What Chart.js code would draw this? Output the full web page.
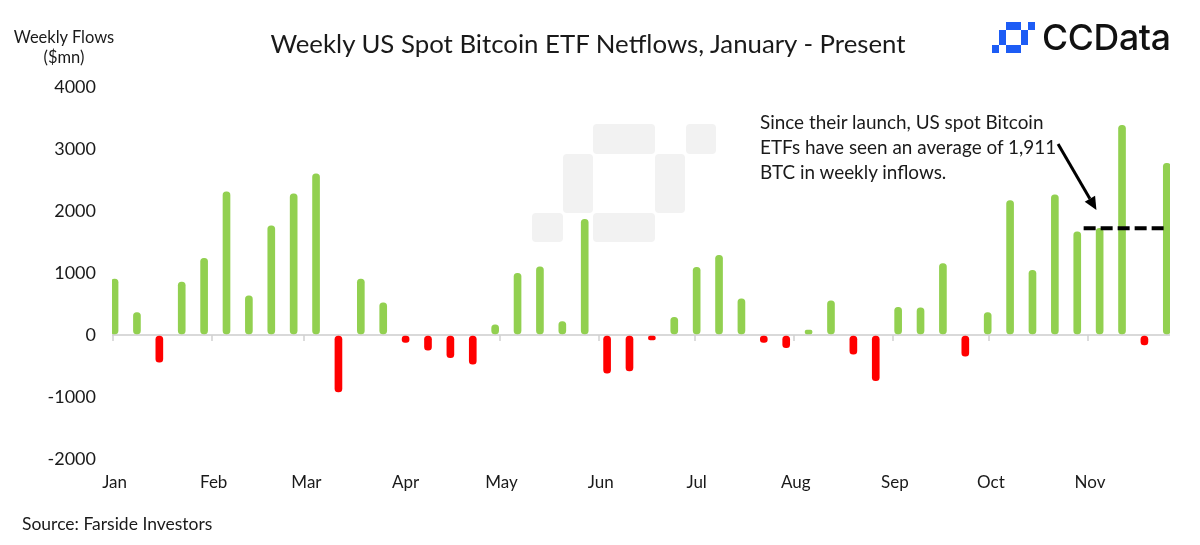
<!DOCTYPE html>
<html>
<head>
<meta charset="utf-8">
<title>Weekly US Spot Bitcoin ETF Netflows</title>
<script src="https://cdn.jsdelivr.net/npm/chart.js@4.4.1/dist/chart.umd.min.js"></script>
<style>
  body { margin: 0; background: #fff; }
  #wrap { position: relative; width: 1200px; height: 545px; overflow: hidden; font-family: Lato, sans-serif; color: #1a1a1a; }
  #wrap canvas { position: absolute; left: 0; top: 0; }
  .wm { position: absolute; background: #f2f2f2; border-radius: 4px; }
  .lg { position: absolute; background: #1d5cf5; }
  .txt { position: absolute; white-space: nowrap; }
  #title { left: 0; width: 1176px; top: 28px; font-size: 25.8px; line-height: 30px; text-align: center; }
  #ytitle { left: 4px; width: 120px; top: 27px; font-size: 16.5px; line-height: 20px; text-align: center; }
  #note { left: 760px; top: 109px; font-size: 18.9px; line-height: 25px; }
  #source { left: 22px; top: 514px; font-size: 17.5px; line-height: 20px; }
  #brand { left: 1042px; top: 21px; font-family: Inter, sans-serif; font-weight: 500; font-size: 35.6px; line-height: 34px; color: #111; letter-spacing: -0.3px; }
</style>
</head>
<body>
<div id="wrap">
  <div id="watermark"></div>
  <canvas id="flows-chart" width="1200" height="545"></canvas>
  <div id="title" class="txt">Weekly US Spot Bitcoin ETF Netflows, January - Present</div>
  <div id="ytitle" class="txt">Weekly Flows<br>($mn)</div>
  <div id="note" class="txt">Since their launch, US spot Bitcoin<br>ETFs have seen an average of 1,911<br>BTC in weekly inflows.</div>
  <div id="source" class="txt">Source: Farside Investors</div>
  <div id="logo"></div>
  <div id="brand" class="txt">CCData</div>
</div>
<script>
// week starting dates (Mondays)
const weekStarts = [
    '2024-01-01', '2024-01-08', '2024-01-15', '2024-01-22', '2024-01-29',
    '2024-02-05', '2024-02-12', '2024-02-19', '2024-02-26',
    '2024-03-04', '2024-03-11', '2024-03-18', '2024-03-25',
    '2024-04-01', '2024-04-08', '2024-04-15', '2024-04-22', '2024-04-29',
    '2024-05-06', '2024-05-13', '2024-05-20', '2024-05-27',
    '2024-06-03', '2024-06-10', '2024-06-17', '2024-06-24',
    '2024-07-01', '2024-07-08', '2024-07-15', '2024-07-22', '2024-07-29',
    '2024-08-05', '2024-08-12', '2024-08-19', '2024-08-26',
    '2024-09-02', '2024-09-09', '2024-09-16', '2024-09-23', '2024-09-30',
    '2024-10-07', '2024-10-14', '2024-10-21', '2024-10-28',
    '2024-11-04', '2024-11-11', '2024-11-18', '2024-11-25'
];
// weekly netflows, $mn
const netflows = [
    900, 360, -440, 855, 1235,
    2310, 630, 1760, 2275,
    2600, -920, 900, 520,
    -120, -245, -365, -470, 165,
    995, 1100, 215, 1865,
    -615, -580, -80, 285,
    1090, 1285, 585, -120, -205,
    80, 550, -310, -735,
    445, 440, 1150, -340, 360,
    2170, 1045, 2260, 1665,
    1720, 3380, -160, 2770
];
const monthStarts = [
    '2024-01-01', '2024-02-01', '2024-03-01', '2024-04-01', '2024-05-01', '2024-06-01',
    '2024-07-01', '2024-08-01', '2024-09-01', '2024-10-01', '2024-11-01'
];
const monthLabels = ['Jan', 'Feb', 'Mar', 'Apr', 'May', 'Jun', 'Jul', 'Aug', 'Sep', 'Oct', 'Nov'];

// average marker and arrow (annotation)
const avgLevel = 1720;
const avgSpan = ['2024-10-30', '2024-11-24'];
const arrowFrom = { date: '2024-10-22', value: 3080 };
const arrowTo = { date: '2024-11-03', value: 2016 };

const GREEN = '#92d050';
const RED = '#ff0000';

function dayOf(s) {
    return (Date.parse(s + 'T00:00:00Z') - Date.parse('2024-01-01T00:00:00Z')) / 86400000;
}

// background mark + logo, same pixel shape: [col, row, w, h]
const markBlocks = [[2, 0, 2, 1], [5, 0, 1, 1], [1, 1, 1, 2], [4, 1, 1, 2], [0, 3, 1, 1], [2, 3, 2, 1]];
function drawMark(holder, cls, x0, y0, cw, ch) {
    markBlocks.forEach(([c, r, w, h]) => {
        const d = document.createElement('div');
        d.className = cls;
        d.style.left = (x0 + c * cw) + 'px';
        d.style.top = (y0 + r * ch) + 'px';
        d.style.width = (w * cw) + 'px';
        d.style.height = (h * ch) + 'px';
        holder.appendChild(d);
    });
}
drawMark(document.getElementById('watermark'), 'wm', 532, 124, 30.7, 29.6);
drawMark(document.getElementById('logo'), 'lg', 992, 22, 7.2, 7.8);

const overlayPlugin = {
    id: 'overlay',
    beforeDatasetsDraw(chart) {
        const { ctx, scales: { x, y } } = chart;
        const y0 = y.getPixelForValue(0);
        ctx.save();
        ctx.strokeStyle = '#d0d0d0';
        ctx.lineWidth = 1.5;
        x.ticks.forEach(t => {
            const px = Math.round(x.getPixelForValue(t.value)) - 2;
            ctx.beginPath();
            ctx.moveTo(px, y0);
            ctx.lineTo(px, y0 + 6);
            ctx.stroke();
        });
        ctx.restore();
    },
    afterDatasetsDraw(chart) {
        const { ctx, scales: { x, y } } = chart;
        const x1 = x.getPixelForValue(dayOf(arrowFrom.date)), y1 = y.getPixelForValue(arrowFrom.value);
        const x2 = x.getPixelForValue(dayOf(arrowTo.date)), y2 = y.getPixelForValue(arrowTo.value);
        const ang = Math.atan2(y2 - y1, x2 - x1);
        const head = 13, half = 6;
        ctx.save();
        ctx.strokeStyle = '#000';
        ctx.fillStyle = '#000';
        ctx.lineWidth = 3;
        ctx.beginPath();
        ctx.moveTo(x1, y1);
        ctx.lineTo(x2 - Math.cos(ang) * head, y2 - Math.sin(ang) * head);
        ctx.stroke();
        ctx.beginPath();
        ctx.moveTo(x2, y2);
        ctx.lineTo(x2 - Math.cos(ang) * head - Math.sin(ang) * half, y2 - Math.sin(ang) * head + Math.cos(ang) * half);
        ctx.lineTo(x2 - Math.cos(ang) * head + Math.sin(ang) * half, y2 - Math.sin(ang) * head - Math.cos(ang) * half);
        ctx.closePath();
        ctx.fill();
        ctx.restore();
    }
};

Chart.defaults.font.family = 'Lato, sans-serif';
Chart.defaults.color = '#1a1a1a';

new Chart(document.getElementById('flows-chart').getContext('2d'), {
    type: 'bar',
    data: {
        datasets: [
            {
                type: 'bar',
                data: weekStarts.map((d, i) => ({ x: dayOf(d), y: netflows[i] })),
                backgroundColor: netflows.map(v => v >= 0 ? GREEN : RED),
                barThickness: 7,
                borderRadius: 3.5,
                borderSkipped: false,
                order: 2
            },
            {
                type: 'line',
                data: avgSpan.map(d => ({ x: dayOf(d), y: avgLevel })),
                borderColor: '#000',
                borderWidth: 4,
                borderDash: [12, 5],
                pointRadius: 0,
                fill: false,
                order: 1
            }
        ]
    },
    options: {
        responsive: false,
        animation: false,
        layout: { padding: { top: 87, right: 30, bottom: 0, left: 0 } },
        plugins: { legend: { display: false }, tooltip: { enabled: false } },
        scales: {
            x: {
                type: 'linear',
                min: -0.8,
                max: 330,
                offset: false,
                grid: { display: false, drawTicks: false, offset: false },
                border: { display: false },
                afterBuildTicks: axis => { axis.ticks = monthStarts.map(d => ({ value: dayOf(d) })); },
                afterFit: axis => { axis.height = 86; },
                ticks: {
                    autoSkip: false,
                    maxRotation: 0,
                    minRotation: 0,
                    padding: 13,
                    font: { size: 17 },
                    callback: (v, i) => monthLabels[i]
                }
            },
            y: {
                min: -2000,
                max: 4000,
                grid: {
                    drawTicks: false,
                    lineWidth: 2,
                    color: c => (c.tick && c.tick.value === 0) ? '#d9d9d9' : 'rgba(0,0,0,0)'
                },
                border: { display: false },
                afterFit: axis => { axis.width = 112; },
                ticks: {
                    stepSize: 1000,
                    padding: 16,
                    font: { size: 18 },
                    callback: v => String(v)
                }
            }
        }
    },
    plugins: [overlayPlugin]
});
</script>
</body>
</html>
